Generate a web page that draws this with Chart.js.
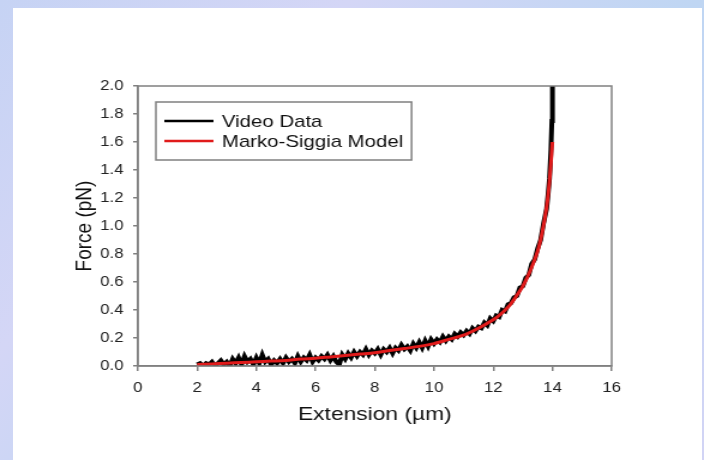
<!DOCTYPE html>
<html>
<head>
<meta charset="utf-8">
<script src="https://cdn.jsdelivr.net/npm/chart.js@4/dist/chart.umd.min.js"></script>
<style>
  html, body { margin: 0; padding: 0; }
  body {
    width: 704px; height: 460px; overflow: hidden; position: relative;
    background: linear-gradient(135deg, #c6d3f4 0%, #d4d6f6 30%, #bfd6f3 60%, #d2d4f5 100%);
  }
  #panel { position: absolute; left: 13px; top: 8px; width: 689px; height: 452px; background: #fff; }
  #chart { position: absolute; left: 0; top: 0; }
</style>
</head>
<body>
<div id="panel"></div>
<!-- the original picture is stretched sideways, so the canvas is too -->
<canvas id="chart" width="587" height="460" style="width:704px;height:460px"></canvas>
<script>
// values
const videoX = [2.0, 2.1, 2.2, 2.3, 2.4, 2.5, 2.6, 2.7, 2.8, 2.9,
  3.0, 3.1, 3.2, 3.3, 3.4, 3.5, 3.6, 3.7, 3.8, 3.9,
  4.0, 4.1, 4.2, 4.3, 4.4, 4.5, 4.6, 4.7, 4.8, 4.9,
  5.0, 5.1, 5.2, 5.3, 5.4, 5.5, 5.6, 5.7, 5.8, 5.9,
  6.0, 6.1, 6.2, 6.3, 6.4, 6.5, 6.6, 6.7, 6.8, 6.9,
  7.0, 7.1, 7.2, 7.3, 7.4, 7.5, 7.6, 7.7, 7.8, 7.9,
  8.0, 8.1, 8.2, 8.3, 8.4, 8.5, 8.6, 8.7, 8.8, 8.9,
  9.0, 9.1, 9.2, 9.3, 9.4, 9.5, 9.6, 9.7, 9.8, 9.9,
  10.0, 10.1, 10.2, 10.3, 10.4, 10.5, 10.6, 10.7, 10.8, 10.9,
  11.0, 11.1, 11.2, 11.3, 11.4, 11.5, 11.6, 11.7, 11.8, 11.9,
  12.0, 12.1, 12.2, 12.3, 12.4, 12.5, 12.6, 12.7, 12.8, 12.9,
  13.0, 13.1, 13.2, 13.3, 13.4, 13.5, 13.6, 13.7, 13.8, 13.85,
  13.9, 13.95, 13.98, 14.0];
const videoY = [0.01, 0.02, 0.00, 0.02, 0.01, 0.03, 0.00, 0.02, 0.04, 0.01,
  0.03, 0.00, 0.05, 0.02, 0.06, 0.01, 0.07, 0.03, 0.05, 0.01,
  0.06, 0.02, 0.08, 0.03, 0.05, 0.01, 0.04, 0.02, 0.05, 0.02,
  0.06, 0.03, 0.05, 0.02, 0.07, 0.03, 0.06, 0.04, 0.08, 0.03,
  0.06, 0.04, 0.07, 0.05, 0.08, 0.04, 0.07, 0.03, 0.01, 0.08,
  0.05, 0.09, 0.06, 0.10, 0.07, 0.10, 0.08, 0.12, 0.08, 0.11,
  0.09, 0.12, 0.08, 0.12, 0.10, 0.13, 0.09, 0.13, 0.11, 0.15,
  0.12, 0.14, 0.11, 0.16, 0.13, 0.17, 0.13, 0.18, 0.14, 0.19,
  0.16, 0.19, 0.17, 0.21, 0.18, 0.21, 0.19, 0.23, 0.21, 0.24,
  0.22, 0.25, 0.23, 0.27, 0.25, 0.28, 0.27, 0.31, 0.29, 0.34,
  0.32, 0.36, 0.35, 0.40, 0.39, 0.44, 0.45, 0.49, 0.50, 0.56,
  0.57, 0.63, 0.65, 0.73, 0.76, 0.84, 0.90, 1.02, 1.12, 1.22,
  1.34, 1.55, 1.75, 2.0];
const modelX = [2, 2.5, 3, 3.5, 4, 4.5, 5, 5.5, 6, 6.5, 7, 7.5, 8, 8.5, 9, 9.5, 10,
  10.5, 11, 11.5, 12, 12.25, 12.5, 12.75, 13, 13.25, 13.5, 13.65, 13.8, 13.9, 14.0];
const modelY = [0.01, 0.015, 0.02, 0.025, 0.03, 0.035, 0.04, 0.05, 0.055, 0.065, 0.075,
  0.085, 0.095, 0.11, 0.125, 0.14, 0.16, 0.19, 0.22, 0.27, 0.33, 0.37, 0.42, 0.49,
  0.57, 0.68, 0.82, 0.95, 1.13, 1.32, 1.6];
const seriesNames = ["Video Data", "Marko-Siggia Model"];
const seriesColors = ["#000000", "#e01b1b"];

const FONT = "'Liberation Sans', Arial, sans-serif";
const AXIS = "#808080";

// boxed legend inside the plot, like the original
const boxLegend = {
  id: "boxLegend",
  afterDatasetsDraw(chart) {
    const ctx = chart.ctx;
    const a = chart.chartArea;
    // frame around the plot
    ctx.save();
    ctx.strokeStyle = AXIS;
    ctx.lineWidth = 1.5;
    ctx.strokeRect(a.left, a.top, a.right - a.left, a.bottom - a.top);

    const x0 = 130, y0 = 102, rowH = 20;
    ctx.font = "17px " + FONT;
    let w = 0;
    chart.data.datasets.forEach(d => { w = Math.max(w, ctx.measureText(d.label).width); });
    ctx.fillStyle = "#fff";
    ctx.fillRect(x0, y0, 55 + w + 7, 58);
    ctx.strokeStyle = AXIS;
    ctx.lineWidth = 1.5;
    ctx.strokeRect(x0, y0, 55 + w + 7, 58);
    chart.data.datasets.forEach((d, i) => {
      const y = y0 + 19 + i * rowH;
      ctx.strokeStyle = d.borderColor;
      ctx.lineWidth = 2.5;
      ctx.beginPath();
      ctx.moveTo(x0 + 7, y);
      ctx.lineTo(x0 + 48, y);
      ctx.stroke();
      ctx.fillStyle = "#111";
      ctx.textBaseline = "middle";
      ctx.fillText(d.label, x0 + 55, y + 1);
    });
    ctx.restore();
  }
};

new Chart(document.getElementById("chart"), {
  type: "line",
  data: {
    datasets: [
      {
        label: seriesNames[0],
        data: videoX.map((x, i) => ({ x: x, y: videoY[i] })),
        borderColor: seriesColors[0],
        borderWidth: 4,
        pointRadius: 0,
        tension: 0,
        order: 2
      },
      {
        label: seriesNames[1],
        data: modelX.map((x, i) => ({ x: x, y: modelY[i] })),
        borderColor: seriesColors[1],
        borderWidth: 3,
        pointRadius: 0,
        tension: 0.3,
        order: 1
      }
    ]
  },
  options: {
    responsive: false,
    animation: false,
    devicePixelRatio: 1,
    layout: { padding: { left: 0, top: 86, right: 77, bottom: 0 } },
    plugins: { legend: { display: false }, tooltip: { enabled: false } },
    scales: {
      x: {
        type: "linear",
        min: 0, max: 16,
        afterFit: s => { s.height = 94; },
        border: { color: AXIS, width: 1.5 },
        grid: { drawOnChartArea: false, drawTicks: true, tickLength: 5, color: AXIS, lineWidth: 1.5 },
        ticks: { stepSize: 2, padding: 9, color: "#222", font: { family: FONT, size: 14 } },
        title: { display: true, text: "Extension (µm)", color: "#111", padding: { top: 0, bottom: 34 }, font: { family: FONT, size: 19 } }
      },
      y: {
        min: 0, max: 2,
        afterFit: s => { s.width = 115; },
        border: { color: AXIS, width: 1.5 },
        grid: { drawOnChartArea: false, drawTicks: true, tickLength: 4, color: AXIS, lineWidth: 1.5 },
        ticks: { stepSize: 0.2, padding: 8, color: "#222", font: { family: FONT, size: 14 },
          callback: v => v.toFixed(1) },
        title: { display: true, text: "Force (pN)", color: "#111", padding: { top: 59, bottom: 0 }, font: { family: FONT, size: 19 } }
      }
    }
  },
  plugins: [boxLegend]
});
</script>
</body>
</html>
